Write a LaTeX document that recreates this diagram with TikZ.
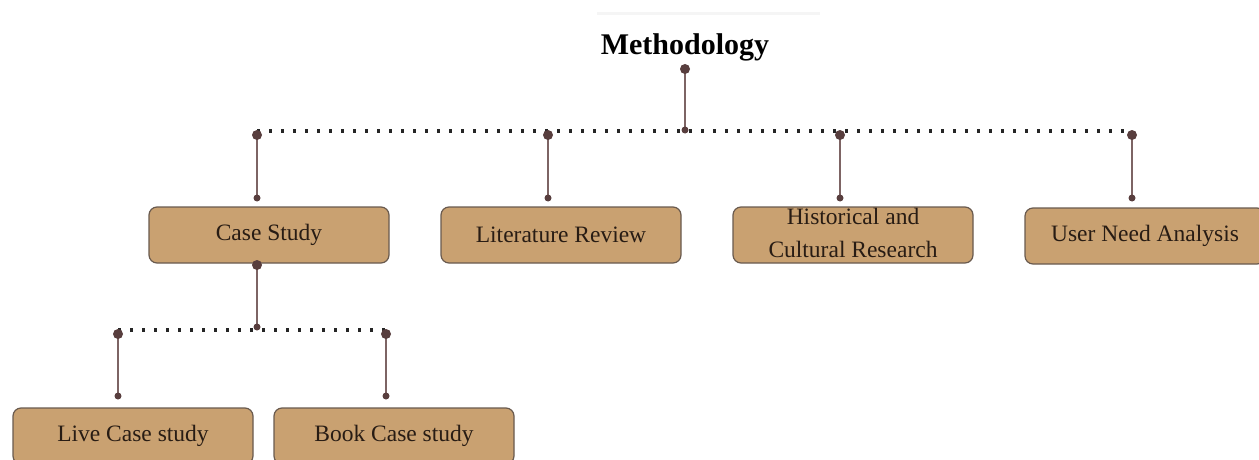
\documentclass[tikz,border=0pt]{standalone}
\usepackage{fontspec}
\setmainfont{Liberation Serif}
\definecolor{boxfill}{RGB}{201,161,113}
\definecolor{boxline}{RGB}{105,90,78}
\definecolor{dotc}{RGB}{88,62,62}
\definecolor{linec}{RGB}{125,100,100}
\definecolor{txtc}{RGB}{40,28,20}
\begin{document}
\begin{tikzpicture}[x=1pt,y=-1pt,
  mbox/.style={draw=boxline,line width=1.2pt,fill=boxfill,rounded corners=8pt,
    minimum width=240pt,minimum height=56pt,inner sep=0pt,text=txtc,
    font=\fontsize{23.5}{33}\selectfont,align=center},
  drop/.style={draw=linec,line width=1.6pt},
  dotline/.style={draw=black!85,line width=3.2pt,dash pattern=on 3.2pt off 8.8pt},
  bigdot/.style={circle,fill=dotc,inner sep=0pt,minimum size=10pt},
  smalldot/.style={circle,fill=dotc,inner sep=0pt,minimum size=7pt}]
\useasboundingbox (0,0) rectangle (1259,460);
\begin{scope}
\clip (0,0) rectangle (1259,460);
% faint line above title
\draw[gray!8,line width=3pt] (597,14) -- (820,14);
% title
\node[font=\fontsize{30}{36}\selectfont\bfseries,text=black] (title) at (685,47) {Methodology};
% boxes
\node[mbox] (cs) at (269,235) {Case Study};
\node[mbox] (lr) at (561,235) {Literature Review};
\node[mbox] (hc) at (853,235) {};
\node[text=txtc,font=\fontsize{23.5}{33}\selectfont,align=center,inner sep=0pt] (hct) at (853,233) {Historical and\\Cultural Research};
\node[mbox] (un) at (1145,236) {User Need Analysis};
\node[mbox] (lc) at (133,436) {Live Case study};
\node[mbox] (bc) at (394,436) {Book Case study};
% level 1 connectors
\coordinate (t0) at (685,69);
\coordinate (t1) at (685,130);
\draw[dotline] (257,131) -- (1132,131);
\draw[drop] (t0) -- (t1);
\node[bigdot] at (t0) {};
\node[smalldot] at (t1) {};
\foreach \n/\x in {a/257,b/548,c/840,d/1132}{
  \coordinate (\n top) at (\x,135);
  \coordinate (\n bot) at (\x,198);
  \draw[drop] (\n top) -- (\n bot);
  \node[bigdot] at (\n top) {};
  \node[smalldot] at (\n bot) {};
}
% level 2 connectors
\coordinate (s0) at (257,265);
\coordinate (s1) at (257,327);
\draw[dotline] (118,330) -- (386,330);
\draw[drop] (s0) -- (s1);
\node[bigdot] at (s0) {};
\node[smalldot] at (s1) {};
\foreach \n/\x in {e/118,f/386}{
  \coordinate (\n top) at (\x,334);
  \coordinate (\n bot) at (\x,396);
  \draw[drop] (\n top) -- (\n bot);
  \node[bigdot] at (\n top) {};
  \node[smalldot] at (\n bot) {};
}
\end{scope}
\end{tikzpicture}
\end{document}
